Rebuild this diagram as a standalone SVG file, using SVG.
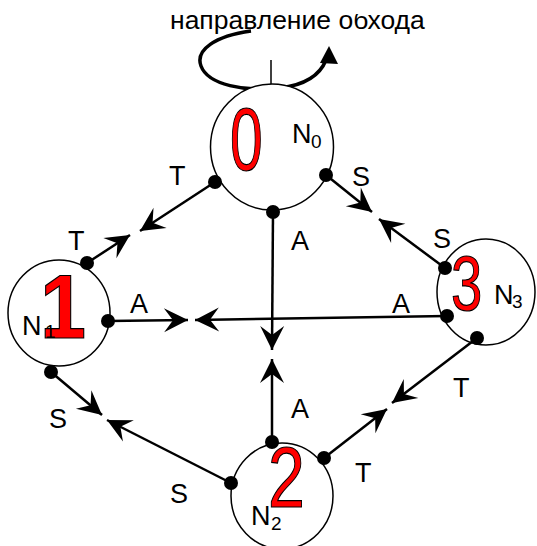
<svg xmlns="http://www.w3.org/2000/svg" width="537" height="546" viewBox="0 0 537 546">
<style>
.lbl{font-family:"Liberation Sans",Arial,sans-serif;font-size:27px;fill:#000}
.sub{font-family:"Liberation Sans",Arial,sans-serif;font-size:19px;fill:#000}
.node{fill:#fff;stroke:#000;stroke-width:1.5}
.dot{fill:#000}
.big{font-family:"Liberation Sans",Arial,sans-serif;fill:#f00;stroke:#000;stroke-width:1.2}
.con{stroke:#000;stroke-width:2.5;fill:none;marker-end:url(#ah)}
</style>
<defs>
<marker id="ah" markerUnits="userSpaceOnUse" markerWidth="28" markerHeight="26" viewBox="-26 -13 28 26" refX="0" refY="0" orient="auto">
<path d="M0,0 L-24,-12 L-15,0 L-24,12 Z" fill="#000"/>
</marker>
<clipPath id="tclip"><rect x="0" y="14" width="537" height="40"/></clipPath>
</defs>
<g id="title">
<text x="170" y="29" class="lbl" style="font-size:26.5px" clip-path="url(#tclip)">направление обхода</text>
<path d="M251,31 C215,36 195,50 201,66 C208,85 245,92 280,88 C305,85 320,75 326,60" fill="none" stroke="#000" stroke-width="3.5"/>
<polygon points="329,46 320,63 338,64" fill="#000"/>
<line x1="271" y1="60" x2="271" y2="103" stroke="#000" stroke-width="1.5"/>
</g>
<g id="node0">
<ellipse class="node" cx="272" cy="147" rx="61.5" ry="63"/>
<text class="big" x="0" y="0" font-size="89" transform="translate(230,170) scale(0.66,1)">0</text>
<text class="lbl" x="292" y="143">N</text><text class="sub" x="311" y="148">0</text>
</g>
<g id="node1">
<ellipse class="node" cx="59" cy="313" rx="51" ry="53"/>
<text class="big" x="0" y="0" font-size="90" font-weight="bold" transform="translate(40,338) scale(0.92,1)">1</text>
<text class="lbl" x="22" y="335">N</text><text class="sub" x="45" y="338">1</text>
</g>
<g id="node3">
<ellipse class="node" cx="486" cy="292" rx="49" ry="53"/>
<text class="big" x="0" y="0" font-size="77" transform="translate(451,310) scale(0.73,1)">3</text>
<text class="lbl" x="494" y="304">N</text><text class="sub" x="512" y="308">3</text>
</g>
<g id="node2">
<ellipse class="node" cx="282" cy="496" rx="51" ry="53"/>
<text class="big" x="0" y="0" font-size="86" transform="translate(268,507) scale(0.77,1)">2</text>
<text class="lbl" x="251" y="525">N</text><text class="sub" x="271" y="530">2</text>
</g>
<g id="connectors">
<line class="con" x1="215" y1="182" x2="140" y2="231"/>
<line class="con" x1="326" y1="175" x2="372" y2="212"/>
<line class="con" x1="273" y1="212" x2="272" y2="350"/>
<line class="con" x1="87" y1="263" x2="130" y2="235"/>
<line class="con" x1="108" y1="321" x2="188" y2="320"/>
<line class="con" x1="51" y1="372" x2="102" y2="415"/>
<line class="con" x1="445" y1="268" x2="379" y2="219"/>
<line class="con" x1="447" y1="316" x2="195" y2="320"/>
<line class="con" x1="477" y1="338" x2="392" y2="403"/>
<line class="con" x1="272" y1="442" x2="272" y2="359"/>
<line class="con" x1="324" y1="458" x2="387" y2="409"/>
<line class="con" x1="231" y1="483" x2="107" y2="420"/>
</g>
<g id="dots">
<circle class="dot" cx="215" cy="182" r="7"/>
<circle class="dot" cx="326" cy="175" r="7"/>
<circle class="dot" cx="273" cy="212" r="7"/>
<circle class="dot" cx="87" cy="263" r="7"/>
<circle class="dot" cx="108" cy="321" r="7"/>
<circle class="dot" cx="51" cy="372" r="7"/>
<circle class="dot" cx="445" cy="268" r="7"/>
<circle class="dot" cx="447" cy="316" r="7"/>
<circle class="dot" cx="477" cy="338" r="7"/>
<circle class="dot" cx="272" cy="442" r="7"/>
<circle class="dot" cx="324" cy="458" r="7"/>
<circle class="dot" cx="231" cy="483" r="7"/>
</g>
<g id="labels">
<text class="lbl" x="169" y="185">T</text>
<text class="lbl" x="352" y="186">S</text>
<text class="lbl" x="291" y="250">A</text>
<text class="lbl" x="68" y="250">T</text>
<text class="lbl" x="130" y="313">A</text>
<text class="lbl" x="49" y="428">S</text>
<text class="lbl" x="433" y="248">S</text>
<text class="lbl" x="392" y="313">A</text>
<text class="lbl" x="453" y="397">T</text>
<text class="lbl" x="291" y="418">A</text>
<text class="lbl" x="355" y="482">T</text>
<text class="lbl" x="170" y="503">S</text>
</g>
</svg>
